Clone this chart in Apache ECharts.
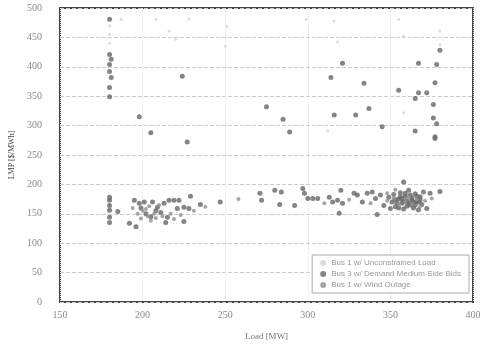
<!DOCTYPE html>
<html>
<head>
<meta charset="utf-8">
<script src="https://cdn.jsdelivr.net/npm/echarts@6/dist/echarts.min.js"></script>
<style>
  html, body { margin: 0; padding: 0; background: #fff; }
  #main { width: 486px; height: 354px; }
</style>
</head>
<body>
<div id="main"></div>
<script>
var myChart = echarts.init(document.getElementById('main'));

// legend names (hard to read in the scan, best guess)
var seriesNames = ['Bus 1 w/ Unconstrained Load', 'Bus 3 w/ Demand Medium Side Bids', 'Bus 1 w/ Wind Outage'];

// faint points, mostly high up
var faintPts = [
  [187, 481], [208, 481], [216, 461], [220, 447], [228, 481], [251, 469], [250, 435],
  [299, 481], [316, 478], [318, 442], [355, 481], [358, 452], [380, 461], [380, 438],
  [358, 322], [312, 291], [180, 470], [180, 455], [180, 440]
];

// dark points
var darkPts = [
  [180, 481], [180, 421], [181, 413], [180, 404], [180, 392], [181, 382], [180, 365], [180, 349],
  [198, 315], [205, 288], [224, 384], [227, 272], [275, 332], [285, 311], [289, 289],
  [321, 406], [314, 382], [334, 372], [380, 428], [367, 406], [378, 404], [377, 373],
  [355, 360], [367, 356], [372, 356], [365, 346], [376, 336], [337, 329], [316, 318],
  [329, 318], [376, 313], [378, 303], [345, 298], [365, 291], [377, 281], [377, 278],
  [180, 178], [180, 173], [180, 164], [180, 156], [180, 144], [180, 135], [185, 154],
  [192, 134], [196, 128], [195, 173], [198, 168], [201, 170], [206, 170], [209, 161],
  [211, 152], [213, 168], [214, 135], [215, 144], [216, 173], [219, 173], [222, 173],
  [221, 159], [225, 161], [228, 159], [225, 137], [229, 180], [235, 166], [247, 170],
  [271, 185], [272, 173], [280, 190], [284, 187], [283, 166],
  [292, 164], [297, 193], [298, 185], [300, 176], [303, 176], [306, 176], [313, 178],
  [315, 170], [318, 173], [321, 168], [320, 190], [328, 185], [330, 182], [333, 170],
  [336, 185], [339, 187], [341, 176], [344, 182], [346, 164], [319, 151], [342, 149],
  [358, 204], [380, 188], [374, 185], [372, 159],
  [349, 178], [351, 170], [352, 183], [353, 162], [355, 175], [356, 186], [357, 168],
  [358, 158], [359, 180], [360, 172], [361, 190], [362, 165], [363, 177], [364, 160],
  [365, 184], [366, 171], [367, 157], [368, 179], [369, 166], [370, 187], [362, 182],
  [354, 168], [357, 176], [360, 163], [364, 170], [350, 159], [366, 180],
  [353, 174], [356, 179], [358, 171], [361, 168], [363, 173], [365, 165], [367, 170],
  [359, 185], [355, 160], [368, 174], [202, 150], [205, 145], [208, 155], [199, 160]
];

// medium grey points
var midPts = [
  [197, 150], [199, 142], [202, 158], [203, 146], [205, 138], [207, 150], [208, 143],
  [210, 165], [212, 146], [204, 163], [200, 155], [194, 160], [217, 150], [219, 141],
  [223, 148], [231, 155], [238, 162], [258, 175], [310, 168], [325, 174], [338, 168],
  [348, 172], [352, 176], [355, 165], [359, 170], [361, 178], [363, 167], [366, 174],
  [368, 162], [371, 172], [375, 176], [348, 185], [353, 191]
];

var labelStyle = { color: '#8a8a8a', fontSize: 10, fontFamily: 'Liberation Serif' };

option = {
  animation: false,
  backgroundColor: '#fff',
  grid: {
    left: 60, right: 13, top: 8, bottom: 52,
    show: true,
    borderColor: '#444',
    borderWidth: 2
  },
  legend: {
    data: seriesNames,
    orient: 'vertical',
    right: 17,
    bottom: 61,
    width: 160,
    itemWidth: 6,
    itemHeight: 6,
    itemGap: 3,
    padding: [4, 8, 4, 8],
    borderColor: '#aaa',
    borderWidth: 1,
    backgroundColor: '#fff',
    textStyle: { color: '#999', fontSize: 8, fontFamily: 'Liberation Sans' }
  },
  xAxis: {
    type: 'value',
    min: 150, max: 400, interval: 50,
    name: 'Load [MW]',
    nameLocation: 'middle',
    nameGap: 30,
    nameTextStyle: { color: '#777', fontSize: 9, fontFamily: 'Liberation Serif' },
    axisLine: { show: false },
    axisTick: { show: false },
    axisLabel: labelStyle,
    splitLine: { show: true, lineStyle: { color: '#e2e2e2', type: 'dotted' } }
  },
  yAxis: {
    type: 'value',
    min: 0, max: 500, interval: 50,
    name: 'LMP [$/MWh]',
    nameLocation: 'middle',
    nameGap: 38,
    nameTextStyle: { color: '#444', fontSize: 8, fontFamily: 'Liberation Serif' },
    axisLine: { show: false },
    axisTick: { show: false },
    axisLabel: Object.assign({ margin: 18 }, labelStyle),
    splitLine: { show: true, lineStyle: { color: '#ccc', type: 'dashed' } }
  },
  series: [
    {
      name: seriesNames[0],
      type: 'scatter',
      symbolSize: 3,
      itemStyle: { color: '#d4d4d4' },
      data: faintPts
    },
    {
      name: seriesNames[1],
      type: 'scatter',
      symbolSize: 5,
      itemStyle: { color: '#666' },
      data: darkPts
    },
    {
      name: seriesNames[2],
      type: 'scatter',
      symbolSize: 4,
      itemStyle: { color: '#8e8e8e' },
      data: midPts
    }
  ]
};
myChart.setOption(option);
</script>
</body>
</html>
